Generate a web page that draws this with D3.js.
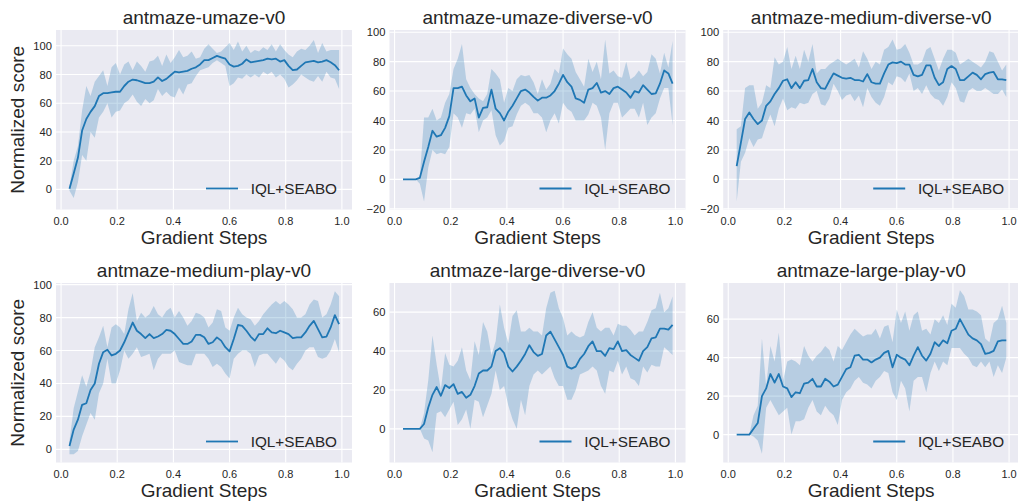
<!DOCTYPE html>
<html><head><meta charset="utf-8">
<script src="https://cdn.jsdelivr.net/npm/d3@7"></script>
<style>html,body{margin:0;padding:0;background:#fff}svg{display:block}</style>
</head><body><svg id="c" width="1018" height="502"></svg>
<script>
const steps = [0.03,0.045,0.06,0.075,0.09,0.105,0.12,0.135,0.15,0.165,0.18,0.195,0.21,0.225,0.24,0.255,0.27,0.285,0.30,0.315,0.33,0.345,0.36,0.375,0.39,0.405,0.42,0.435,0.45,0.465,0.48,0.495,0.51,0.525,0.54,0.555,0.57,0.585,0.60,0.615,0.63,0.645,0.66,0.675,0.69,0.705,0.72,0.735,0.75,0.765,0.78,0.795,0.81,0.825,0.84,0.855,0.87,0.885,0.90,0.915,0.93,0.945,0.96,0.975,0.99];

const titles = ["antmaze-umaze-v0","antmaze-umaze-diverse-v0","antmaze-medium-diverse-v0","antmaze-medium-play-v0","antmaze-large-diverse-v0","antmaze-large-play-v0"];
const seriesName = "IQL+SEABO";
const xTicks = [0,0.2,0.4,0.6,0.8,1.0];
const yTicksA = [0,20,40,60,80,100];
const yTicksB = [-20,0,20,40,60,80,100];
const yTicksC = [0,20,40,60];

const umazeMean = [0.5,11,22,41,49,54,58,65,67,67, 67.5,68,68,72,75,76.5,76,75,74,74, 75,78,75.5,77,79.5,82,81.5,82,82.5,84, 85,87,90,90,91.5,93,92,91,87,85.5, 86,87.5,90.5,88.5,89,89.5,90,91,90.5,91, 89,90,86,83,83.5,86,88.5,89,89.5,88.5, 89,90,88.5,86.5,83];
const umazeHi = [2,20,30,55,72,65,75,79,83,72, 85,88,80,87,89,83,89,86,82,89, 90,93,86,94,88,92,97,92,93,96, 91,92,98,101,98,95,96,99,102,97, 103,96,100,95,97,96,99,97,101,96, 101,97,94,92,96,98,97,100,104,95, 102,96,97,97,97];
const umazeLo = [-1,-6,5,24,20,40,36,50,54,60, 50,54,55,60,62,66,61,58,63,60, 62,70,65,68,65,64,71,66,73,74, 79,83,84,85,88,90,88,86,72,74, 78,77,80,78,80,78,82,80,82,78, 80,77,71,73,76,80,78,76,75,79, 75,82,78,77,70];

const umazeDivMean = [0,0,0,0,1,12,22,33,29,30, 35,43,62,62,63,57,53,55,42,48.5, 49,61,48,45,40,46,50,55,60,61, 59,56,53.5,55.5,55.5,57,60,65,71,66, 63,55,54,52,61,62,65.5,59,60,58, 62,63,61,59,55.5,60,59,64,61,58, 58.5,65,74,72,65];
const umazeDivHi = [0,0,0,0,2,42,42,48,40,42, 52,58,75,82,92,68,62,58,55,53, 58,75,72,68,52,62,60,68,71,70, 71,66,58,68,61,65,75,72,89,85, 82,73,68,63,82,73,80,68,95,72, 74,70,69,80,68,70,74,70,73,85, 82,72,86,76,94];
const umazeDivLo = [0,0,0,0,-3,-15,8,20,17,18, 17,22,45,42,35,45,44,48,32,40, 42,47,30,23,26,35,36,44,50,52, 50,45,45,42,32,40,45,38,52,48, 46,40,40,40,44,52,50,42,20,45, 52,52,42,45,48,48,42,52,37,42, 45,55,62,62,37];

const medDivMean = [9,25,41,45.5,41,37.5,40,50,53,58, 62,67,68,62,66,62,67,67.5,75,66, 62,61.5,67,72,70.5,69,68.5,69,67.5,67.5, 66.5,71.5,66,65,65,72,78,79.5,79,80, 78,78,71,70,71,77.5,77.5,69,64,66, 75,77,75,67.5,67.5,70,72.5,71,68,71.5, 72.5,73,68,68,67.5];
const medDivHi = [34,36,62,64,64,48,52,64,62,83, 78,80,90,75,84,75,88,80,92,72, 75,75,78,80,82,80,78,80,82,76, 87,82,75,80,78,88,90,95,88,89, 92,86,78,78,80,88,90,82,74,82, 88,88,86,78,80,82,80,78,76,80, 87,86,80,74,78];
const medDivLo = [-15,12,18,28,22,27,28,37,44,36, 48,55,47,49,48,52,51,52,58,60, 51,50,55,65,60,54,57,58,53,57, 49,62,56,52,50,56,66,64,70,69, 66,72,60,62,58,64,58,55,54,50, 56,66,62,53,52,60,62,60,60,62, 60,58,58,61,56];

const medPlayMean = [2,12,18,27,28,36,40,52,59,60.5, 57,58,60,65,71,77,72,70,67.5,70, 67.5,68.5,70,72.5,72,70,67,64,64,65.5, 69.5,69.5,68,64,65,68,66,62,59.5,67, 75.5,75,72,68.5,66,70,70,73.5,71,70.5, 72,71,70,67.5,68,68,71,75,78,73, 68,68.5,74,81.5,76];
const medPlayHi = [5,25,35,45,38,47,62,68,75,62, 74,76,74,70,85,95,78,83,80,82, 87,82,80,84,86,80,84,80,75,78, 83,82,80,74,77,85,84,74,72,80, 86,82,80,79,75,78,82,85,88,90, 88,90,88,85,80,80,82,88,91,90, 80,82,88,96,93];
const medPlayLo = [-3,-3,-1,8,15,22,18,34,40,55, 40,40,48,60,55,58,62,56,57,58, 48,55,58,58,58,60,53,52,51,51, 58,58,58,55,50,52,50,46,43,55, 58,60,60,58,50,57,58,58,55,52, 56,54,50,48,52,55,60,62,62,56, 55,56,60,67,59];

const largeDivMean = [0,0,0,0,0,2.5,11,17.5,21.5,17, 22.5,21,23,18,19,16,17.5,22,28.5,30, 30,32,40,41.5,39,32,29.5,32,35,38.5, 43,39.5,37.5,38.5,48,50,46,42,38,32, 31,32,36,38.5,42.5,45,40,40,37.5,41.5, 41,45,40,40.5,38,36.5,35,40,42,46.5, 47,51.5,51.5,51,53.5];
const largeDivHi = [0,0,0,0,0,8,25,48,33,20, 39,33,32,35,42,30,25,45,38,55, 50,38,45,64,52,44,58,61,50,50, 52,50,50,48,62,70,71,62,57,48, 50,48,47,48,55,60,52,50,52,52, 48,54,53,53,51,48,50,50,55,61, 62,70,60,62,68];
const largeDivLo = [0,0,0,0,0,-5,-6,-12,8,9, 6,10,14,2,5,10,0,15,14,6, 12,18,30,20,22,12,5,0,15,7, 22,28,30,28,30,32,26,22,22,15, 15,20,28,29,30,32,30,22,18,30, 29,35,28,32,26,25,22,32,29,33, 32,32,42,40,38];

const largePlayMean = [0,0,0,0,3,6,20,24,31.5,27, 31.5,25,24,19.5,22,21.5,26.5,27,29,25, 25,29,27.5,25,26,30,34,35,41,41.5, 39,39,37.5,39,40,42.5,43.5,35,41.5,40, 39,36,41,45.5,41,38.5,42,48,46,49, 47.5,54,55,60,56,52,50,49,47,42, 42.5,43.5,48.5,49,49];
const largePlayHi = [0,0,0,0,10,15,50,25,46,38, 53,28,38,39,38,36,46,41,38,41, 43,46,44,38,46,44,48,52,55,53, 51,52,52,55,50,56,57,48,65,58, 64,54,62,64,54,55,52,60,58,62, 57,68,66,75,72,65,65,64,62,50, 48,58,60,67,58];
const largePlayLo = [0,0,0,0,-1,-3,-10,14,18,14, 10,12,14,0,7,7,8,14,18,12, 10,15,12,10,5,18,22,24,28,30, 27,26,24,28,30,33,32,22,18,28, 24,12,28,30,30,22,32,38,33,38, 36,45,45,45,42,40,36,35,38,35, 38,30,36,32,40];

const means = [umazeMean, umazeDivMean, medDivMean, medPlayMean, largeDivMean, largePlayMean];
const his = [umazeHi, umazeDivHi, medDivHi, medPlayHi, largeDivHi, largePlayHi];
const los = [umazeLo, umazeDivLo, medDivLo, medPlayLo, largeDivLo, largePlayLo];
const yDomains = [[-14,111],[-20.5,101.5],[-20.5,101.5],[-8,101],[-17.3,75],[-14.5,78.8]];
const yTickSets = [yTicksA, yTicksB, yTicksB, yTicksA, yTicksC, yTicksC];

// layout
const colLefts = [56, 389.5, 723.2];
const axW = 296;
const rowTops = [30, 283];
const axH = 179.5;
const xDomain = [-0.018, 1.036];
const FONT = "'Liberation Sans', Arial, Helvetica, sans-serif";
const TXT = "#262626";
const BLUE = "#1f77b4";

const svg = d3.select("#c");
const fmtY = v => (v < 0 ? "\u2212" + Math.abs(v) : String(v));
const fmtX = d3.format(".1f");

for (let p = 0; p < 6; p++) {
  const r = Math.floor(p / 3), c = p % 3;
  const L = colLefts[c], T = rowTops[r];
  const x = d3.scaleLinear().domain(xDomain).range([L, L + axW]);
  const y = d3.scaleLinear().domain(yDomains[p]).range([T + axH, T]);
  const g = svg.append("g");
  g.append("rect").attr("x", L).attr("y", T).attr("width", axW).attr("height", axH).attr("fill", "#EAEAF2");
  g.selectAll(".gx").data(xTicks).enter().append("line")
    .attr("x1", d => x(d)).attr("x2", d => x(d)).attr("y1", T).attr("y2", T + axH)
    .attr("stroke", "#fff").attr("stroke-width", 1.1);
  g.selectAll(".gy").data(yTickSets[p]).enter().append("line")
    .attr("x1", L).attr("x2", L + axW).attr("y1", d => y(d)).attr("y2", d => y(d))
    .attr("stroke", "#fff").attr("stroke-width", 1.1);
  g.selectAll(".tx").data(xTicks).enter().append("text")
    .attr("x", d => x(d)).attr("y", T + axH + 15.3).attr("text-anchor", "middle")
    .attr("font-family", FONT).attr("font-size", 11).attr("fill", TXT).text(d => fmtX(d));
  g.selectAll(".ty").data(yTickSets[p]).enter().append("text")
    .attr("x", L - 4).attr("y", d => y(d)).attr("dy", "0.36em").attr("text-anchor", "end")
    .attr("font-family", FONT).attr("font-size", 11.2).attr("fill", TXT).text(d => fmtY(d));
  const pts = steps.map((s, i) => ({s, m: means[p][i], lo: los[p][i], hi: his[p][i]}));
  const area = d3.area().x(d => x(d.s)).y0(d => y(d.lo)).y1(d => y(d.hi));
  const line = d3.line().x(d => x(d.s)).y(d => y(d.m));
  g.append("path").datum(pts).attr("d", area).attr("fill", BLUE).attr("fill-opacity", 0.25);
  g.append("path").datum(pts).attr("d", line).attr("fill", "none").attr("stroke", BLUE).attr("stroke-width", 1.8).attr("stroke-linejoin", "round");
  g.append("text").attr("x", L + axW / 2).attr("y", T - 6.5).attr("text-anchor", "middle")
    .attr("font-family", FONT).attr("font-size", 19).attr("fill", TXT).text(titles[p]);
  g.append("text").attr("x", L + axW / 2).attr("y", T + axH + 34.5).attr("text-anchor", "middle")
    .attr("font-family", FONT).attr("font-size", 19).attr("fill", TXT).text("Gradient Steps");
  if (c === 0) {
    g.append("text").attr("transform", `translate(${24},${T + axH / 2}) rotate(-90)`)
      .attr("text-anchor", "middle").attr("font-family", FONT).attr("font-size", 19).attr("fill", TXT)
      .text("Normalized score");
  }
  const lx = L + axW - 15, ly = T + axH - 21;
  g.append("text").attr("x", lx).attr("y", ly).attr("dy", "0.35em").attr("text-anchor", "end")
    .attr("font-family", FONT).attr("font-size", 15.3).attr("fill", TXT).text(seriesName);
  g.append("line").attr("x1", lx - 87 - 44).attr("x2", lx - 87 - 12).attr("y1", ly).attr("y2", ly)
    .attr("stroke", BLUE).attr("stroke-width", 1.8);
}
</script></body></html>
